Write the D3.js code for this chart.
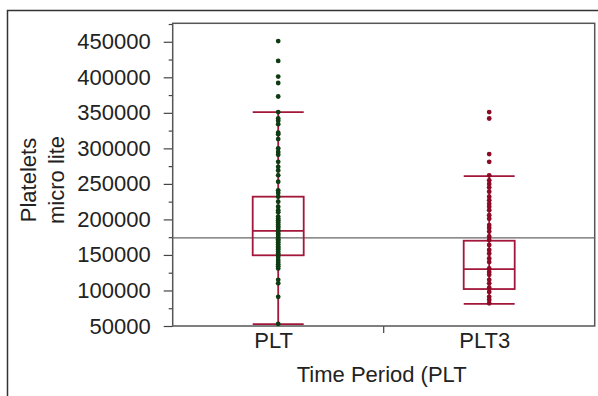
<!DOCTYPE html>
<html>
<head>
<meta charset="utf-8">
<script src="https://cdn.jsdelivr.net/npm/d3@7"></script>
<style>
  body { margin: 0; background: #fff; }
  svg text { font-family: "Liberation Sans", Arial, sans-serif; fill: #222; }
</style>
</head>
<body>
<div id="chart"></div>
<script>
// categories
let groups = ["PLT", "PLT3"];

// raw points
let pltValues = [451000, 423000, 401000, 392000, 373000, 351000, 342000, 339000, 334000, 322000,
    320000, 313000, 300000, 295000, 291000, 281000, 274000, 269000, 262000, 253000,
    241000, 237000, 232000, 225000, 218000, 213000, 210000, 204000, 201000, 199000,
    196000, 193000, 190000, 188000, 185000, 183000, 180000, 178000, 175000, 172000,
    170000, 168000, 165000, 162000, 160000, 158000, 155000, 152000, 150000, 147000,
    143000, 140000, 137000, 134000, 131000, 115000, 110000, 91000, 53000];
let plt3Values = [351000, 342000, 292000, 281000, 262000, 255000, 250000, 245000, 239000, 232000,
    227000, 222000, 218000, 213000, 206000, 201000, 192000, 188000, 183000, 176000,
    171000, 164000, 157000, 152000, 145000, 140000, 131000, 126000, 122000, 115000,
    110000, 104000, 98000, 91000, 87000, 82000];

// box summary per group (PLT, PLT3)
let whiskerLow  = [52500, 81000];
let q1          = [149500, 102000];
let medians     = [184000, 130000];
let q3          = [232000, 170000];
let whiskerHigh = [351000, 261000];

let grandMean = 174000;

// y ticks
let majorTicks = [50000, 100000, 150000, 200000, 250000, 300000, 350000, 400000, 450000];
let minorTicks = [75000, 125000, 175000, 225000, 275000, 325000, 375000, 425000, 475000];

let plot = {left: 172.7, right: 594.7, top: 23.3, bottom: 326};
let boxW = 51;
let boxColor = "#a3173a";
let dotColors = ["#0d3b12", "#8b0a26"];

let svg = d3.select("#chart").append("svg")
    .attr("width", 598)
    .attr("height", 396);

// outer frame (runs off right and bottom)
svg.append("path")
    .attr("d", "M7.5,400 L7.5,10.5 L602,10.5")
    .attr("fill", "none")
    .attr("stroke", "#333")
    .attr("stroke-width", 1.5);

let y = d3.scaleLinear()
    .domain([50000, 476000])
    .range([plot.bottom, plot.top]);

let x = d3.scaleBand()
    .domain(groups)
    .range([plot.left, plot.right])
    .padding(0);

// y axis major + minor
let yMajor = svg.append("g")
    .attr("transform", "translate(" + plot.left + ",0)")
    .call(d3.axisLeft(y).tickValues(majorTicks).tickSize(9).tickPadding(13).tickFormat(d3.format("d")));
yMajor.select(".domain").remove();
yMajor.selectAll("line").attr("stroke", "#444").attr("stroke-width", 1.2);
yMajor.selectAll("text").style("font-size", "22px");

let yMinor = svg.append("g")
    .attr("transform", "translate(" + plot.left + ",0)")
    .call(d3.axisLeft(y).tickValues(minorTicks.filter(function(d) { return d < 476000; })).tickSize(4).tickFormat(""));
yMinor.select(".domain").remove();
yMinor.selectAll("line").attr("stroke", "#444").attr("stroke-width", 1.2);

// x axis
let xAxis = svg.append("g")
    .attr("transform", "translate(0," + plot.bottom + ")")
    .call(d3.axisBottom(x).tickSize(0).tickPadding(6));
xAxis.select(".domain").remove();
xAxis.selectAll("text").style("font-size", "22px").attr("dx", -4.5);

// tick between the two groups
svg.append("line")
    .attr("x1", x("PLT3")).attr("x2", x("PLT3"))
    .attr("y1", plot.bottom).attr("y2", plot.bottom + 7)
    .attr("stroke", "#444")
    .attr("stroke-width", 1.2);

// plot frame
svg.append("rect")
    .attr("x", plot.left)
    .attr("y", plot.top)
    .attr("width", plot.right - plot.left)
    .attr("height", plot.bottom - plot.top)
    .attr("fill", "none")
    .attr("stroke", "#555")
    .attr("stroke-width", 1.5);

// grand mean line
svg.append("line")
    .attr("x1", plot.left).attr("x2", plot.right)
    .attr("y1", y(grandMean)).attr("y2", y(grandMean))
    .attr("stroke", "#666")
    .attr("stroke-width", 1.3);

// boxes
let boxes = svg.selectAll(".box")
    .data(groups)
    .enter().append("g")
    .attr("class", "box")
    .attr("transform", function(d) { return "translate(" + (x(d) + x.bandwidth() / 2) + ",0)"; });

boxes.append("line")
    .attr("x1", 0).attr("x2", 0)
    .attr("y1", function(d, i) { return y(whiskerLow[i]); })
    .attr("y2", function(d, i) { return y(whiskerHigh[i]); })
    .attr("stroke", boxColor).attr("stroke-width", 1.8);

boxes.append("rect")
    .attr("x", -boxW / 2)
    .attr("y", function(d, i) { return y(q3[i]); })
    .attr("width", boxW)
    .attr("height", function(d, i) { return y(q1[i]) - y(q3[i]); })
    .attr("fill", "none")
    .attr("stroke", boxColor).attr("stroke-width", 1.8);

[medians, whiskerLow, whiskerHigh].forEach(function(arr) {
    boxes.append("line")
        .attr("x1", -boxW / 2).attr("x2", boxW / 2)
        .attr("y1", function(d, i) { return y(arr[i]); })
        .attr("y2", function(d, i) { return y(arr[i]); })
        .attr("stroke", boxColor).attr("stroke-width", 1.8);
});

// dots
[pltValues, plt3Values].forEach(function(vals, i) {
    svg.append("g").selectAll("circle")
        .data(vals)
        .enter().append("circle")
        .attr("cx", x(groups[i]) + x.bandwidth() / 2)
        .attr("cy", function(d) { return y(d); })
        .attr("r", 2.4)
        .attr("fill", dotColors[i]);
});

// axis titles
svg.append("text")
    .attr("transform", "translate(35.5,180) rotate(-90)")
    .style("text-anchor", "middle")
    .style("font-size", "22px")
    .text("Platelets");
svg.append("text")
    .attr("transform", "translate(63.5,180) rotate(-90)")
    .style("text-anchor", "middle")
    .style("font-size", "22px")
    .text("micro lite");

svg.append("text")
    .attr("x", (plot.left + plot.right) / 2 - 2)
    .attr("y", 382)
    .style("text-anchor", "middle")
    .style("font-size", "22px")
    .text("Time Period (PLT");
</script>
</body>
</html>
